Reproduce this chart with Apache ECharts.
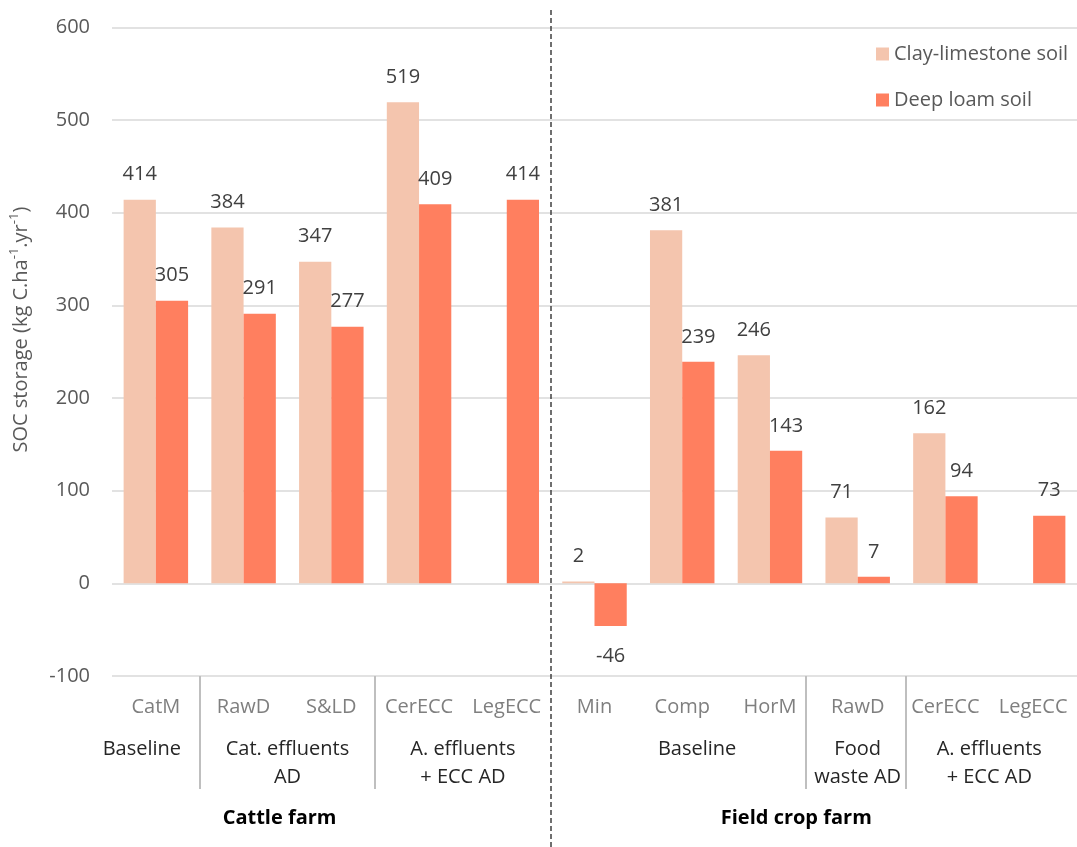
<!DOCTYPE html>
<html>
<head>
<meta charset="utf-8">
<script src="https://cdn.jsdelivr.net/npm/echarts@6/dist/echarts.min.js"></script>
<style>
html,body{margin:0;padding:0;background:#fff;}
#chart{width:1077px;height:847px;}
</style>
</head>
<body>
<div id="chart"></div>
<script>
// ---- data ----
const categories = ['CatM', 'RawD', 'S&LD', 'CerECC', 'LegECC', 'Min', 'Comp', 'HorM', 'RawD', 'CerECC', 'LegECC'];
const clayLimestone = [414, 384, 347, 519, null, 2, 381, 246, 71, 162, null];
const deepLoam = [305, 291, 277, 409, 414, -46, 239, 143, 7, 94, 73];
const seriesNames = ['Clay-limestone soil', 'Deep loam soil'];
const groupLabels = ['Baseline', 'Cat. effluents\nAD', 'A. effluents\n+ ECC AD', 'Baseline', 'Food\nwaste AD', 'A. effluents\n+ ECC AD'];
const farmLabels = ['Cattle farm', 'Field crop farm'];
const yTicks = { min: -100, max: 600, interval: 100 };

// ---- layout (positions in category units) ----
const groupLabelPos = [0.34, 2, 4, 6.67, 8.5, 10];
const groupSepPos = [1, 3, 7.91, 9.05];
const farmLabelPos = [1.91, 7.8];
const farmSepPos = 5;

const FONT = '"Open Sans", "Noto Sans", sans-serif';
const GRID_LEFT = 112, CAT_W = 88.5, N = categories.length;
const GRID_W = CAT_W * N;

function barData(arr) {
  return arr.map(v => (v !== null && v < 0)
    ? { value: v, label: { position: 'bottom', distance: 20 } }
    : (v === null ? '-' : v));
}

const chart = echarts.init(document.getElementById('chart'));
const labelStyle = { show: true, position: 'top', distance: 15, color: '#404040', fontSize: 20, fontFamily: FONT };

chart.setOption({
  animation: false,
  backgroundColor: '#fff',
  textStyle: { fontFamily: FONT },
  legend: {
    orient: 'vertical', left: 871, top: 39, itemGap: 26,
    itemWidth: 13, itemHeight: 13, icon: 'rect',
    data: seriesNames,
    textStyle: { color: '#595959', fontSize: 20, fontFamily: FONT }
  },
  grid: [
    { left: GRID_LEFT, top: 27.3, height: 648.7, width: GRID_W },
    { left: GRID_LEFT, top: 9, bottom: 0, width: GRID_W }
  ],
  xAxis: [
    {
      type: 'category', gridIndex: 0, data: categories, position: 'bottom',
      axisLine: { show: false }, axisTick: { show: false },
      axisLabel: { interval: 0, margin: 19, color: '#7f7f7f', fontSize: 20, lineHeight: 24, fontFamily: FONT }
    },
    {
      type: 'value', gridIndex: 0, min: 0, max: N, position: 'bottom',
      axisLine: { show: false }, splitLine: { show: false },
      axisTick: { show: true, customValues: groupSepPos, length: 113, inside: false,
        lineStyle: { color: '#bfbfbf', width: 2 } },
      axisLabel: {
        show: true, customValues: groupLabelPos, margin: 59, color: '#262626', fontSize: 20, lineHeight: 28, fontFamily: FONT,
        formatter: v => { const i = groupLabelPos.findIndex(p => Math.abs(p - v) < 1e-6); return i >= 0 ? groupLabels[i] : ''; }
      }
    },
    {
      type: 'value', gridIndex: 0, min: 0, max: N, position: 'bottom',
      axisLine: { show: false }, splitLine: { show: false }, axisTick: { show: false },
      axisLabel: {
        show: true, customValues: farmLabelPos, margin: 130, color: '#000', fontSize: 20, fontWeight: 'bold', lineHeight: 24, fontFamily: FONT,
        formatter: v => { const i = farmLabelPos.findIndex(p => Math.abs(p - v) < 1e-6); return i >= 0 ? farmLabels[i] : ''; }
      }
    },
    { type: 'value', gridIndex: 1, min: 0, max: N, show: false }
  ],
  yAxis: [
    {
      type: 'value', gridIndex: 0, min: yTicks.min, max: yTicks.max, interval: yTicks.interval,
      axisLine: { show: false }, axisTick: { show: false },
      splitLine: { lineStyle: { color: '#d9d9d9', width: 1.5 } },
      axisLabel: { margin: 22, color: '#595959', fontSize: 20, fontFamily: FONT },
      name: '{a|SOC storage (kg C.ha}{s|-1}{a|.yr}{s|-1}{a|)}',
      nameLocation: 'middle', nameGap: 78, nameRotate: 90,
      nameTextStyle: {
        padding: [0, 0, 0, 44],
        rich: {
          a: { color: '#595959', fontSize: 20, lineHeight: 26, fontFamily: FONT },
          s: { color: '#595959', fontSize: 13, lineHeight: 26, verticalAlign: 'top', fontFamily: FONT }
        }
      }
    },
    { type: 'value', gridIndex: 1, min: 0, max: 1, show: false }
  ],
  series: [
    {
      name: seriesNames[0], type: 'bar', xAxisIndex: 0, yAxisIndex: 0,
      data: barData(clayLimestone), barGap: '0%', barCategoryGap: '26.5%',
      itemStyle: { color: '#f4c5ae' }, label: labelStyle
    },
    {
      name: seriesNames[1], type: 'bar', xAxisIndex: 0, yAxisIndex: 0,
      data: barData(deepLoam), barGap: '0%', barCategoryGap: '26.5%',
      itemStyle: { color: '#ff7f5f' }, label: labelStyle
    },
    {
      type: 'line', xAxisIndex: 3, yAxisIndex: 1, data: [], silent: true,
      markLine: {
        silent: true, symbol: ['none', 'none'], label: { show: false },
        lineStyle: { color: '#404040', width: 1.5, type: [5, 3] },
        data: [{ xAxis: farmSepPos }]
      }
    }
  ]
});
</script>
</body>
</html>
